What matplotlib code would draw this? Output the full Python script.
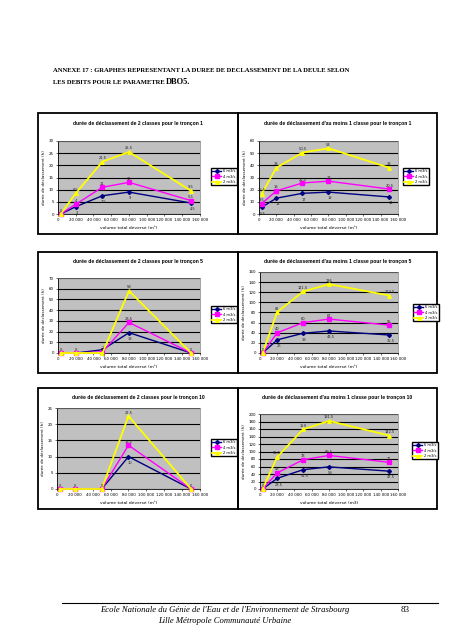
import matplotlib
matplotlib.use("Agg")
import matplotlib.pyplot as plt
from matplotlib.patches import Rectangle
from matplotlib.lines import Line2D

# ---------------- data ----------------
x_vol = [3000, 20000, 50000, 80000, 150000]
x_ticks = [0, 20000, 40000, 60000, 80000, 100000, 120000, 140000, 160000]
x_ticklabels = ["0", "20 000", "40 000", "60 000", "80 000", "100 000", "120 000", "140 000", "160 000"]
series_names = ["6 m3/s", "4 m3/s", "2 m3/s"]

t1_2c_6 = [0, 3, 7.5, 9, 4.5]
t1_2c_4 = [0, 4, 11, 13, 5.5]
t1_2c_2 = [0, 8.5, 21.5, 25.5, 9.5]

t1_1c_6 = [5.5, 13, 17, 18, 14]
t1_1c_4 = [8.5, 19, 25.5, 27, 20.5]
t1_1c_2 = [16.5, 38, 50.5, 54, 38]

t5_2c_6 = [0, 0, 3, 19, 0]
t5_2c_4 = [0, 0, 1, 28.5, 0]
t5_2c_2 = [0, 0, 0, 58, 0]

t5_1c_6 = [0, 26, 39, 43.5, 35.5]
t5_1c_4 = [0, 40, 60, 67, 55]
t5_1c_2 = [0, 81, 121.5, 136, 113.5]

t10_2c_6 = [0, 0, 0, 10, 0]
t10_2c_4 = [0, 0, 0, 13.5, 0]
t10_2c_2 = [0, 0, 0, 22.5, 0]

t10_1c_6 = [0, 28.5, 51.5, 59, 47.5]
t10_1c_4 = [0, 43, 78, 89.5, 71]
t10_1c_2 = [0, 85.5, 159, 181.5, 142.5]

titles = [
    "durée de déclassement de 2 classes pour le tronçon 1",
    "durée de déclassement d'au moins 1 classe pour le tronçon 1",
    "durée de déclassement de 2 classes pour le tronçon 5",
    "durée de déclassement d'au moins 1 classe pour le tronçon 5",
    "durée de déclassement de 2 classes pour le tronçon 10",
    "durée de déclassement d'au moins 1 classe pour le tronçon 10",
]
ylabels = ["durée de déclassement (h)"] * 6
xlabels = ["volume total déversé (m³)"] * 5 + ["volume total déversé (m3)"]

W, H = 452, 640
fig = plt.figure(figsize=(W / 100, H / 100), dpi=100)
fig.patch.set_facecolor("white")

colors = ["#000080", "#FF00FF", "#FFFF00"]
markers = ["D", "s", "^"]
msizes = [2.0, 2.2, 2.6]
offsets = [(1, -4.5), (0, 2.5), (0, 2.5)]

FS = 2.9


def frac(x0, y0, x1, y1):
    return [x0 / W, 1 - y1 / H, (x1 - x0) / W, (y1 - y0) / H]


def chart(box, plot, leg_xy, title, ylabel, xlabel, ymax, ystep, data):
    bx0, by0, bx1, by1 = box
    fig.patches.append(Rectangle((bx0 / W, 1 - by1 / H), (bx1 - bx0) / W, (by1 - by0) / H,
                                 transform=fig.transFigure, fill=False, edgecolor="black",
                                 linewidth=1.3, zorder=0))
    fig.text((bx0 + bx1) / 2 / W, 1 - (by0 + 10) / H, title, ha="center", va="center",
             fontsize=3.6, fontweight="bold", family="Liberation Sans")
    ax = fig.add_axes(frac(*plot))
    ax.set_facecolor("#C0C0C0")
    ax.set_xlim(0, 160000)
    ax.set_ylim(0, ymax)
    yt = list(range(0, ymax + 1, ystep))
    ax.set_yticks(yt)
    ax.set_yticklabels([str(v) for v in yt])
    ax.set_xticks(x_ticks)
    ax.set_xticklabels(x_ticklabels)
    ax.tick_params(labelsize=FS, length=1.5, width=0.4, pad=1.5)
    ax.yaxis.grid(True, color="black", linewidth=0.8)
    ax.set_axisbelow(True)
    for s in ["top", "right"]:
        ax.spines[s].set_color("#808080")
        ax.spines[s].set_linewidth(0.5)
    for s in ["left", "bottom"]:
        ax.spines[s].set_linewidth(0.6)
    ax.set_ylabel(ylabel, fontsize=FS, labelpad=2)
    ax.set_xlabel(xlabel, fontsize=3.2, labelpad=2.5)
    handles = []
    done = set()
    for i, ys in enumerate(data):
        lw = 1.3 if i == 2 else 1.0
        h, = ax.plot(x_vol, ys, color=colors[i], marker=markers[i], markersize=msizes[i],
                     linewidth=lw, clip_on=False, zorder=3)
        handles.append(h)
        for xv, yv in zip(x_vol, ys):
            key = (xv, yv)
            if key in done:
                continue
            done.add(key)
            off = offsets[i]
            if yv == 0:
                off = (0, 2.5)
            txt = ("%g" % yv)
            ax.annotate(txt, (xv, yv), textcoords="offset points", xytext=off,
                        ha="center", va="center", fontsize=2.6, color="#222222", zorder=6,
                        annotation_clip=False)
    lx, ly = leg_xy
    fig.legend(handles, series_names, loc="upper left",
               bbox_to_anchor=(lx / W, 1 - ly / H), fontsize=2.6, frameon=True,
               fancybox=False, edgecolor="black", framealpha=1, borderpad=0.4,
               handlelength=2.5, handletextpad=0.4, labelspacing=0.35)
    return ax


chart((38, 113, 238, 234), (58, 141, 200, 214), (209, 166), titles[0], ylabels[0], xlabels[0], 30, 5,
      [t1_2c_6, t1_2c_4, t1_2c_2])
chart((238, 113, 437, 234), (259, 141, 398, 214), (401, 166), titles[1], ylabels[1], xlabels[1], 60, 10,
      [t1_1c_6, t1_1c_4, t1_1c_2])
chart((38, 252, 238, 373), (58, 278, 200, 353), (209, 304), titles[2], ylabels[2], xlabels[2], 70, 10,
      [t5_2c_6, t5_2c_4, t5_2c_2])
chart((238, 252, 437, 373), (260, 272, 398, 353), (411, 302), titles[3], ylabels[3], xlabels[3], 160, 20,
      [t5_1c_6, t5_1c_4, t5_1c_2])
chart((38, 388, 238, 509), (57, 408, 200, 489), (209, 437), titles[4], ylabels[4], xlabels[4], 25, 5,
      [t10_2c_6, t10_2c_4, t10_2c_2])
chart((238, 388, 437, 509), (260, 414, 398, 489), (410, 440), titles[5], ylabels[5], xlabels[5], 200, 20,
      [t10_1c_6, t10_1c_4, t10_1c_2])

# page header
fig.text(53 / W, 1 - 70 / H, "ANNEXE 17 : GRAPHES REPRESENTANT LA DUREE DE DECLASSEMENT DE LA DEULE SELON",
         fontsize=4.75, fontweight="bold", family="Liberation Serif", va="center", ha="left")
t2 = fig.text(53 / W, 1 - 84 / H, "LES DEBITS POUR LE PARAMETRE ",
              fontsize=4.75, fontweight="bold", family="Liberation Serif", va="baseline", ha="left")
fig.add_artist(matplotlib.text.Annotation(
    "DBO5.", xy=(1, 0), xycoords=t2, xytext=(0, -0.4), textcoords="offset points",
    va="bottom", ha="left", fontsize=6.0, fontweight="bold", family="Liberation Serif"))

# footer
fig.add_artist(Line2D([62 / W, 438 / W], [1 - 603 / H, 1 - 603 / H], color="black", linewidth=0.8,
                      transform=fig.transFigure))
fig.text(225 / W, 1 - 610 / H, "Ecole Nationale du Génie de l'Eau et de l'Environnement de Strasbourg",
         fontsize=6.2, style="italic", family="Liberation Serif", ha="center", va="center")
fig.text(225 / W, 1 - 621 / H, "Lille Métropole Communauté Urbaine",
         fontsize=6.2, style="italic", family="Liberation Serif", ha="center", va="center")
fig.text(405 / W, 1 - 610 / H, "83", fontsize=6.5, family="Liberation Serif", ha="center", va="center")

fig.savefig("out.png", dpi=100)
